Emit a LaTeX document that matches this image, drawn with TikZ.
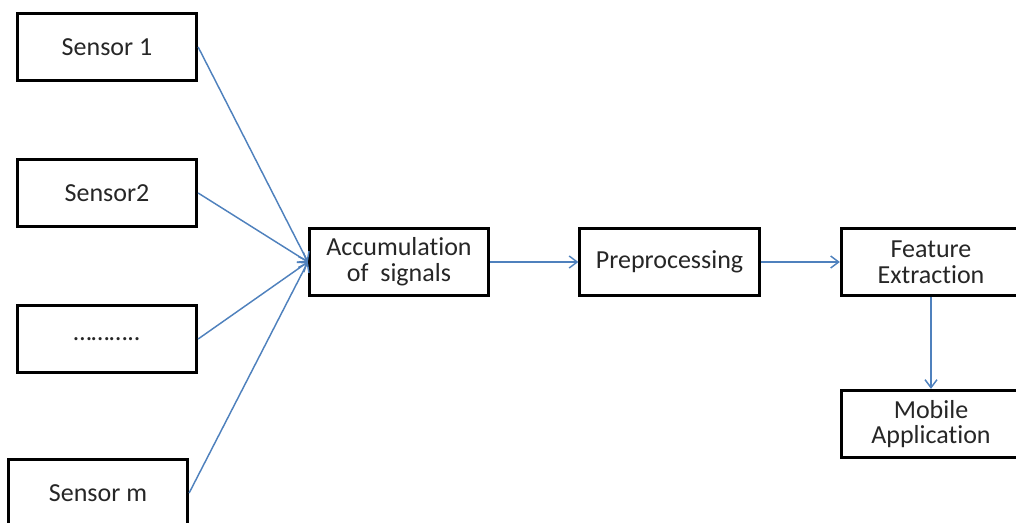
\documentclass[tikz,border=0pt]{standalone}
\usepackage{fontspec}
\setmainfont[RawFeature={-liga;-clig;-calt;-dlig}]{Carlito}
\usetikzlibrary{arrows.meta}
\definecolor{linkblue}{RGB}{79,129,189}

\begin{document}
\begin{tikzpicture} [
    x=0.75pt, y=-0.75pt,
    block/.style    = { rectangle, draw=black, line width=2.2pt, text=black!85,
                        text centered, align=center, inner sep=0pt,
                        font=\fontsize{19.5pt}{19.2pt}\selectfont,
                        minimum width=134.5pt, minimum height=50.5pt },
    line/.style     = { draw=linkblue, line width=1.1pt,
                        -{Straight Barb[length=6pt,width=9pt]} },
  ]
  \clip (0,0) rectangle (1016,523);

  % Define nodes
  \node[block] (sensor1) at (107,47)  {Sensor 1};
  \node[block] (sensor2) at (107,193) {Sensor2};
  \node[block] (dots)    at (107,339) {………..};
  \node[block] (sensorm) at (98,493)  {Sensor m};
  \node[block] (accum)   at (399,262) {Accumulation\\of \ signals};
  \node[block] (prep)    at (669.5,262) {Preprocessing};
  \node[block] (feat)    at (931,262) {Feature\\Extraction};
  \node[block] (mobile)  at (931,424) {Mobile\\Application};

  % connect the nodes
  \path [line] (sensor1.east) -- (accum.west);
  \path [line] (sensor2.east) -- (accum.west);
  \path [line] (dots.east)    -- (accum.west);
  \path [line] (sensorm.east) -- (accum.west);
  \path [line] (accum) -- (prep);
  \path [line] (prep)  -- (feat);
  \path [line] (feat)  -- (mobile);
\end{tikzpicture}
\end{document}
